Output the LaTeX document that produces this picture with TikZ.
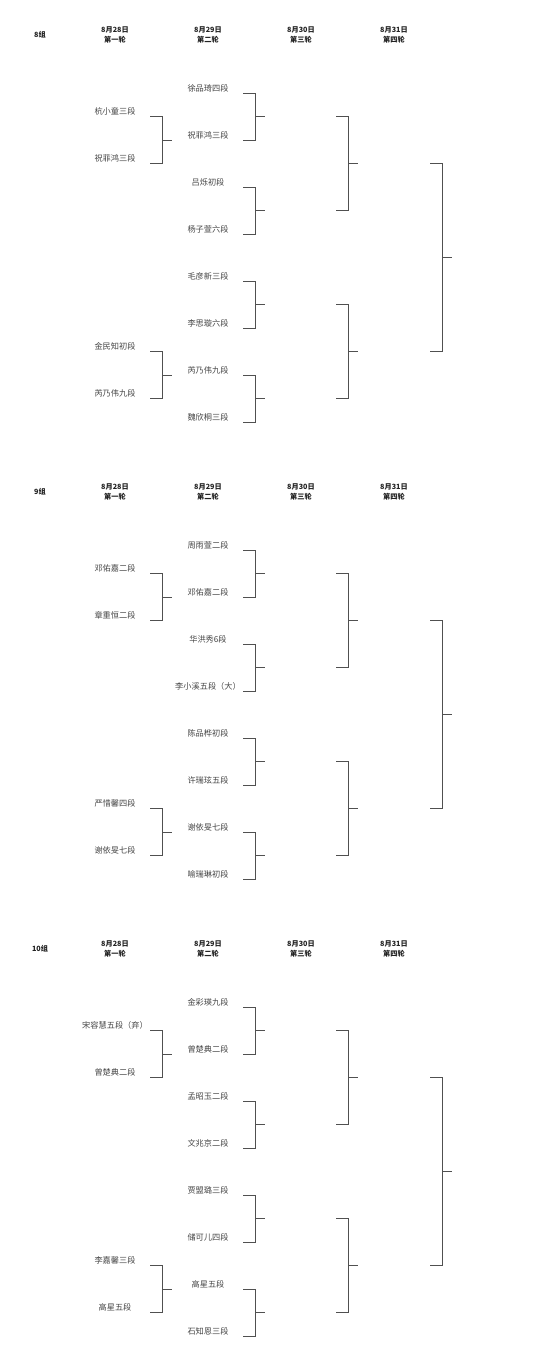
\documentclass[tikz,border=0pt]{standalone}
\usepackage{fontspec}
\setmainfont{Noto Sans CJK SC}
\usepackage{xcolor}
\usepackage{tikz}
\usetikzlibrary{calc}
\definecolor{linegray}{HTML}{505050}
\definecolor{namegray}{HTML}{454545}
\definecolor{headgray}{HTML}{222222}

\begin{document}
\begin{tikzpicture}[
  x=1pt, y=-1pt,
  player/.style={font=\fontsize{8.2}{9}\selectfont, text=namegray, inner sep=0pt},
  dayhead/.style={font=\fontsize{7.2}{10}\selectfont\bfseries, text=headgray, align=center, inner sep=0pt},
  grouptag/.style={font=\fontsize{7.2}{9}\selectfont\bfseries, text=headgray, inner sep=0pt},
  bracket/.style={draw=linegray, line width=0.9pt}
]
\useasboundingbox (0,0) rectangle (550,1359);

% same frame for every group: header, line slots, brackets
\foreach \g/\dy in {8/0, 9/457, 10/914} {
  \begin{scope}[yshift=-\dy pt]
    \node[grouptag] (tag-\g) at (40,35) {\g 组};
    \foreach \d/\r [count=\c] in {28/一, 29/二, 30/三, 31/四}
      \node[dayhead] (day-\g-\c) at ({115+93*(\c-1)},35) {8月\d 日\\第\r 轮};
    \coordinate (r1-\g-1) at (150,116.5);
    \coordinate (r1-\g-2) at (150,163.5);
    \coordinate (r1-\g-3) at (150,351.5);
    \coordinate (r1-\g-4) at (150,398.5);
    \foreach \k in {1,...,8}
      \coordinate (r2-\g-\k) at (243,{93+47*(\k-1)});
    \foreach \k in {1,...,4}
      \coordinate (r3-\g-\k) at (336,{116.5+94*(\k-1)});
    \coordinate (r4-\g-1) at (430,163.5);
    \coordinate (r4-\g-2) at (430,351.5);
  \end{scope}
  \foreach \rd/\a/\b in {r1/1/2, r1/3/4, r2/1/2, r2/3/4, r2/5/6, r2/7/8, r3/1/2, r3/3/4, r4/1/2}
    \draw[bracket] (\rd-\g-\a) -- ++(12,0) |- (\rd-\g-\b)
      ($(\rd-\g-\a)!0.5!(\rd-\g-\b)+(12,0)$) -- ++(10,0);
}

% 8组
\foreach \n [count=\k] in {杭小童三段, 祝菲鸿三段, 金民知初段, 芮乃伟九段}
  \node[player] (q8-\k) at ($(r1-8-\k)+(-35,-5.5)$) {\n};
\foreach \n [count=\k] in {徐品琦四段, 祝菲鸿三段, 吕烁初段, 杨子萱六段, 毛彦新三段, 李思璇六段, 芮乃伟九段, 魏欣桐三段}
  \node[player] (p8-\k) at ($(r2-8-\k)+(-35,-5)$) {\n};

% 9组
\foreach \n [count=\k] in {邓佑嘉二段, 章重恒二段, 严惜馨四段, 谢依旻七段}
  \node[player] (q9-\k) at ($(r1-9-\k)+(-35,-5.5)$) {\n};
\foreach \n [count=\k] in {周雨萱二段, 邓佑嘉二段, 华洪秀6段, 李小溪五段（大）, 陈品桦初段, 许瑞玹五段, 谢依旻七段, 喻瑞琳初段}
  \node[player] (p9-\k) at ($(r2-9-\k)+(-35,-5)$) {\n};

% 10组
\foreach \n [count=\k] in {宋容慧五段（弃）, 曾楚典二段, 李嘉馨三段, 高星五段}
  \node[player] (q10-\k) at ($(r1-10-\k)+(-35,-5.5)$) {\n};
\foreach \n [count=\k] in {金彩瑛九段, 曾楚典二段, 孟昭玉二段, 文兆京二段, 贾盟璐三段, 储可儿四段, 高星五段, 石知恩三段}
  \node[player] (p10-\k) at ($(r2-10-\k)+(-35,-5)$) {\n};
\end{tikzpicture}
\end{document}
